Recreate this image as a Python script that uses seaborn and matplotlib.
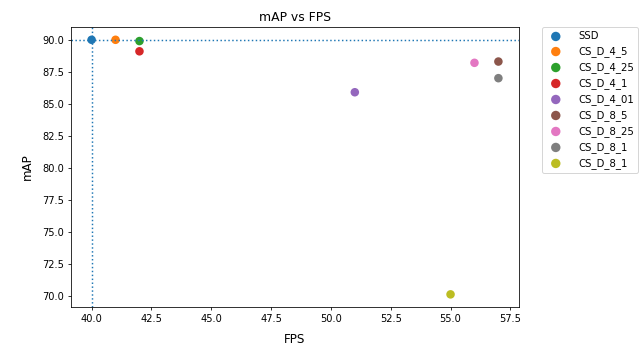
import matplotlib
matplotlib.use("Agg")
import matplotlib.pyplot as plt
import seaborn as sns

names = ["SSD", "CS_D_4_5", "CS_D_4_25", "CS_D_4_1", "CS_D_4_01",
         "CS_D_8_5", "CS_D_8_25", "CS_D_8_1", "CS_D_8_1"]
fps = [40, 41, 42, 42, 51, 57, 56, 57, 55]
mAP = [90.0, 90.0, 89.9, 89.1, 85.9, 88.3, 88.2, 87.0, 70.1]
colors = sns.color_palette("tab10", len(names))

dpi = 71
fig, ax = plt.subplots(figsize=(642 / dpi, 347 / dpi), dpi=dpi)
fig.subplots_adjust(left=0.111, right=0.808, top=0.922, bottom=0.115)

for n, x, y, c in zip(names, fps, mAP, colors):
    sns.scatterplot(x=[x], y=[y], color=c, label=n, ax=ax, s=75,
                    edgecolor="none")

ax.axhline(mAP[0], color=colors[0], linestyle=":")
ax.axvline(fps[0], color=colors[0], linestyle=":")

ax.set_title("mAP vs FPS", fontsize=12.5)
ax.set_xlabel("FPS", fontsize=12, labelpad=9)
ax.set_ylabel("mAP", fontsize=12, labelpad=9)
ax.tick_params(labelsize=10)
ax.legend(loc="upper left", bbox_to_anchor=(1.051, 1.0), borderaxespad=0,
          fontsize=10.3, handletextpad=1.2, markerscale=1.1)

fig.savefig("out.png", dpi=dpi)
